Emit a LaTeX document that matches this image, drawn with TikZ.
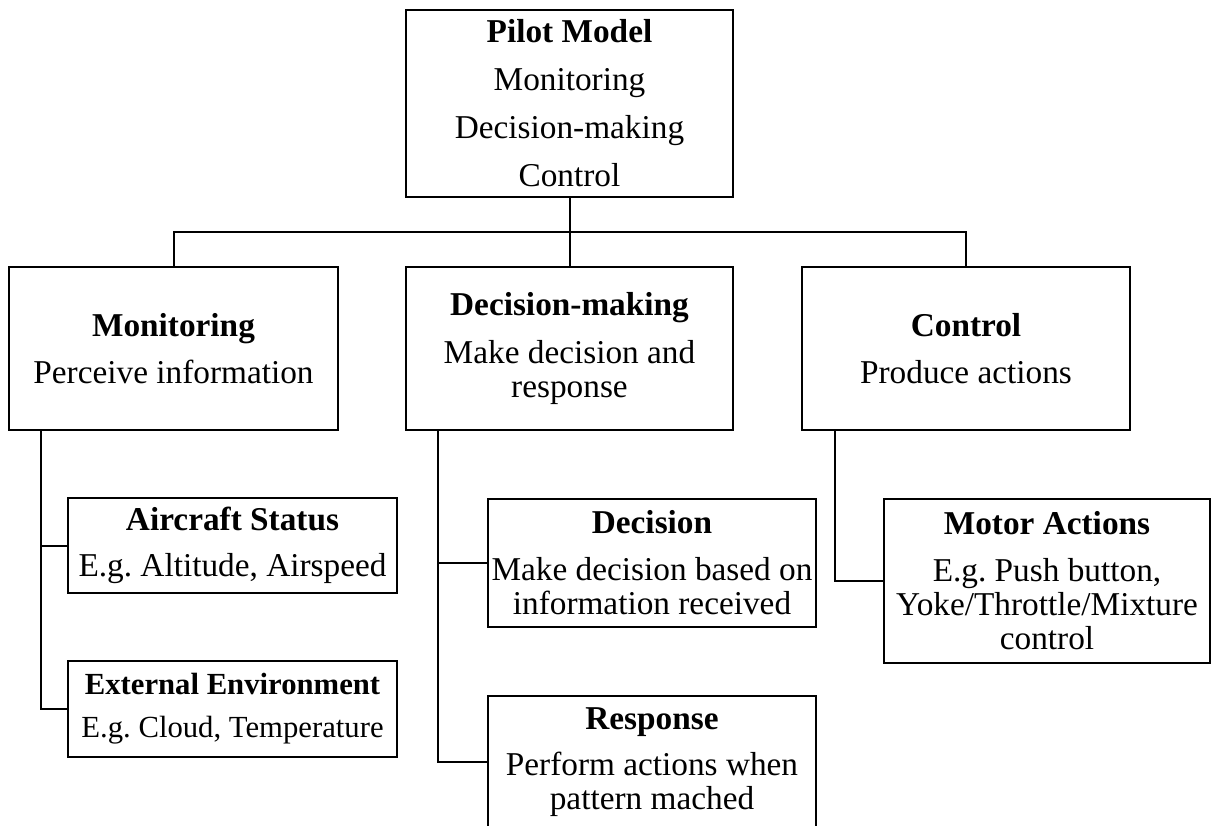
\documentclass[tikz,border=0pt]{standalone}
\usepackage{fontspec}
\setmainfont{Liberation Serif}
\frenchspacing
\begin{document}
\begin{tikzpicture}[x=1pt,y=-1pt,
  box/.style={draw=black, line width=2pt, fill=white, inner sep=0pt, align=center,
    font=\fontsize{33.3}{34}\selectfont},
  conn/.style={draw=black, line width=2pt}]
\clip (0,0) rectangle (1211,826);
\fill[white] (0,0) rectangle (1211,826);
% top
\node[box, font=\fontsize{33.3}{48}\selectfont, minimum width=327pt, minimum height=187pt] (top) at (569.5,103.5)
  {\textbf{Pilot Model}\\Monitoring\\Decision-making\\Control};
% second level
\node[box, minimum width=329pt, minimum height=163pt] (mon) at (173.5,348.5)
  {\textbf{Monitoring}\\[13pt]Perceive information};
\node[box, minimum width=327pt, minimum height=163pt] (dm) at (569.5,348.5)
  {\textbf{Decision-making}\\[14pt]Make decision and\\response};
\node[box, minimum width=328pt, minimum height=163pt] (ctl) at (966,348.5)
  {\textbf{Control}\\[13pt]Produce actions};
% third level
\node[box, minimum width=329pt, minimum height=95pt] (air) at (232.5,545.5)
  {\textbf{Aircraft Status}\\[12pt]E.g. Altitude, Airspeed};
\node[box, font=\fontsize{30.7}{32}\selectfont, minimum width=329pt, minimum height=96pt] (ext) at (232.5,709)
  {\textbf{External Environment}\\[11pt]E.g. Cloud, Temperature};
\node[box, minimum width=328pt, minimum height=128pt] (dec) at (652,563)
  {\textbf{Decision}\\[13pt]Make decision based on\\information received};
\node[box, minimum width=328pt, minimum height=132pt] (res) at (652,762)
  {\textbf{Response}\\[12pt]Perform actions when\\pattern mached};
\node[box, minimum width=326pt, minimum height=164pt] (mot) at (1047,581)
  {\textbf{Motor Actions}\\[13pt]E.g. Push button,\\Yoke/Throttle/Mixture\\control};
% connectors
\coordinate (bus) at (569.5,232);
\draw[conn] (top.south) -- (bus);
\draw[conn] (mon.north) |- (bus) -| (ctl.north);
\draw[conn] (bus) -- (dm.north);
\draw[conn] ([xshift=33pt]mon.south west) |- (air.west);
\draw[conn] ([xshift=33pt]mon.south west) |- (ext.west);
\draw[conn] ([xshift=33pt]dm.south west) |- (dec.west);
\draw[conn] ([xshift=33pt]dm.south west) |- (res.west);
\draw[conn] ([xshift=34pt]ctl.south west) |- (mot.west);
\end{tikzpicture}
\end{document}
